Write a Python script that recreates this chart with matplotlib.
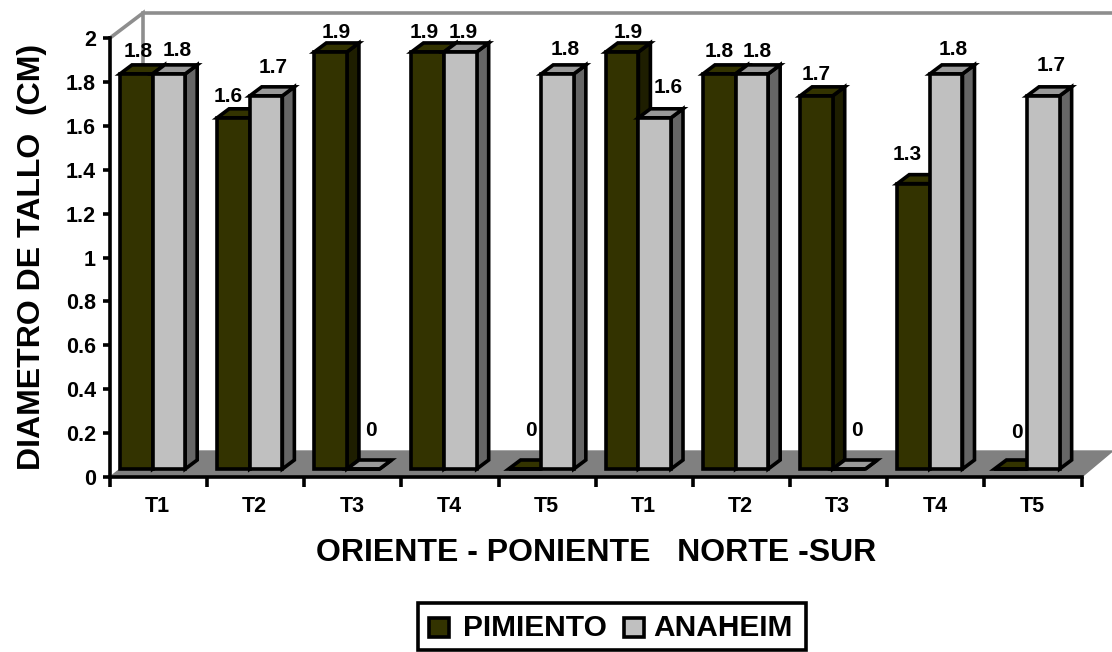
import matplotlib
matplotlib.use("Agg")
import matplotlib.pyplot as plt
from matplotlib.patches import Polygon, Rectangle
from matplotlib.lines import Line2D

plt.rcParams['font.family'] = ['Liberation Sans', 'DejaVu Sans']
plt.rcParams['font.weight'] = 'bold'

# Stem diameter per treatment, two orientations in sequence
categories = ["T1", "T2", "T3", "T4", "T5", "T1", "T2", "T3", "T4", "T5"]
pimiento = [1.8, 1.6, 1.9, 1.9, 0, 1.9, 1.8, 1.7, 1.3, 0]
anaheim = [1.8, 1.7, 0, 1.9, 1.8, 1.6, 1.8, 0, 1.8, 1.7]

# Hand placement of value labels, pixels from the bar's top front centre
pimiento_label_nudge = [(1.5, 22), (-5, 21), (6, 19), (-4, 19), (6, 38),
                        (6, 19), (0, 22), (0, 21), (-6, 29), (6, 36)]
anaheim_label_nudge = [(8, 23), (7, 28), (8, 38), (3, 19), (8, 24),
                       (13, 30), (5, 22), (8, 38), (7, 24), (8, 30)]

W, H = 1112, 652
AX_L, AX_R, AX_T, AX_B = 110, 1081.6, 38, 477
fig = plt.figure(figsize=(W / 100, H / 100), dpi=100, facecolor="white")
ax = fig.add_axes([AX_L / W, 1 - AX_B / H, (AX_R - AX_L) / W, (AX_B - AX_T) / H])
ax.set_xlim(0, len(categories))
ax.set_ylim(0, 2)
ax.patch.set_visible(False)

PX_X = (AX_R - AX_L) / len(categories)   # pixels per category slot
PX_Y = (AX_B - AX_T) / 2                 # pixels per unit of diameter

# Oblique depth of the chart box, and of each bar
BOX_DX, BOX_DY = 33 / PX_X, 26 / PX_Y
BAR_DX, BAR_DY = 12 / PX_X, 9 / PX_Y
BAR_START, BAR_W = 10 / PX_X, 32.6 / PX_X
BAR_LIFT = 8 / PX_Y
LW = 2.6
GREY = "#808080"
PIMIENTO_FILL = "#333300"
ANAHEIM_FILL = "#C0C0C0"

# Floor and the visible edges of the back wall
n = len(categories)
ax.add_patch(Polygon([(0, 0), (BOX_DX, BOX_DY), (n + 31 / PX_X, BOX_DY), (n, 0)],
                     closed=True, fc=GREY, ec=GREY, lw=1, clip_on=False, zorder=1))
wall_top = 2 + BOX_DY - 1 / PX_Y
ax.add_line(Line2D([0, BOX_DX, BOX_DX], [2, wall_top, BOX_DY], color="#8E8E8E", lw=LW,
                   clip_on=False, zorder=1, solid_joinstyle="miter"))
ax.add_line(Line2D([BOX_DX, n + 31 / PX_X], [wall_top, wall_top], color="#8E8E8E", lw=LW,
                   clip_on=False, zorder=1))


def draw_bar(x, value, front, top, side, z):
    y0 = BAR_LIFT
    y1 = BAR_LIFT + value
    x1 = x + BAR_W
    style = dict(closed=True, ec="black", lw=LW, clip_on=False, zorder=z,
                 joinstyle="miter")
    ax.add_patch(Polygon([(x1, y0), (x1 + BAR_DX, y0 + BAR_DY),
                          (x1 + BAR_DX, y1 + BAR_DY), (x1, y1)], fc=side, **style))
    ax.add_patch(Polygon([(x, y1), (x + BAR_DX, y1 + BAR_DY),
                          (x1 + BAR_DX, y1 + BAR_DY), (x1, y1)], fc=top, **style))
    ax.add_patch(Polygon([(x, y0), (x, y1), (x1, y1), (x1, y0)], fc=front, **style))


z = 2
for i in range(n):
    draw_bar(i + BAR_START, pimiento[i], PIMIENTO_FILL, PIMIENTO_FILL, "#1E1E00", z)
    draw_bar(i + BAR_START + BAR_W, anaheim[i], ANAHEIM_FILL, "#999999", "#666666", z + 1)
    z += 2

# Value labels sit above all bars
for i in range(n):
    for value, nudge, shift in ((pimiento[i], pimiento_label_nudge[i], 0),
                                (anaheim[i], anaheim_label_nudge[i], BAR_W)):
        ax.annotate(f"{value:g}",
                    xy=(i + BAR_START + shift + BAR_W / 2, BAR_LIFT + value),
                    xytext=nudge, textcoords="offset pixels",
                    ha="center", va="center", fontsize=15, fontweight="bold",
                    annotation_clip=False, zorder=100)

# Axes
for name in ("top", "right"):
    ax.spines[name].set_visible(False)
for name in ("left", "bottom"):
    ax.spines[name].set_linewidth(LW)
    ax.spines[name].set_zorder(60)
ax.set_yticks([i / 5 for i in range(11)])
ax.set_yticklabels([f"{i / 5:g}" for i in range(11)], fontsize=15.5)
ax.tick_params(axis="y", length=5, width=LW, pad=5)
ax.set_xticks(range(n + 1))
ax.set_xticklabels([""] * (n + 1))
ax.tick_params(axis="x", length=7, width=LW)
for i, name in enumerate(categories):
    ax.annotate(name, xy=(i + 0.5, 0), xytext=(-1, -29), textcoords="offset pixels",
                ha="center", va="center", fontsize=15.5, fontweight="bold",
                annotation_clip=False)

fig.text(32 / W, 1 - 257 / H, "DIAMETRO DE TALLO  (CM)", rotation=90, ha="center",
         va="center", fontsize=23, fontweight="bold")
fig.text(596 / W, 1 - 553 / H, "ORIENTE - PONIENTE   NORTE -SUR", ha="center",
         va="center", fontsize=23, fontweight="bold")


# Legend assembled from figure artists, positions given in pixels
def fig_rect(left, top, width, height, fill):
    fig.add_artist(Rectangle((left / W, 1 - (top + height) / H), width / W, height / H,
                             transform=fig.transFigure, fc=fill, ec="black", lw=LW))


fig_rect(417.5, 603, 388, 47, "white")
for left, fill, text_x, name in ((428.5, PIMIENTO_FILL, 463, "PIMIENTO"),
                                 (623.5, ANAHEIM_FILL, 653, "ANAHEIM")):
    fig_rect(left, 618, 20, 19, fill)
    fig.text(text_x / W, 1 - 636 / H, name, ha="left", va="baseline",
             fontsize=21.5, fontweight="bold")

fig.savefig("out.png", dpi=100, facecolor="white")
